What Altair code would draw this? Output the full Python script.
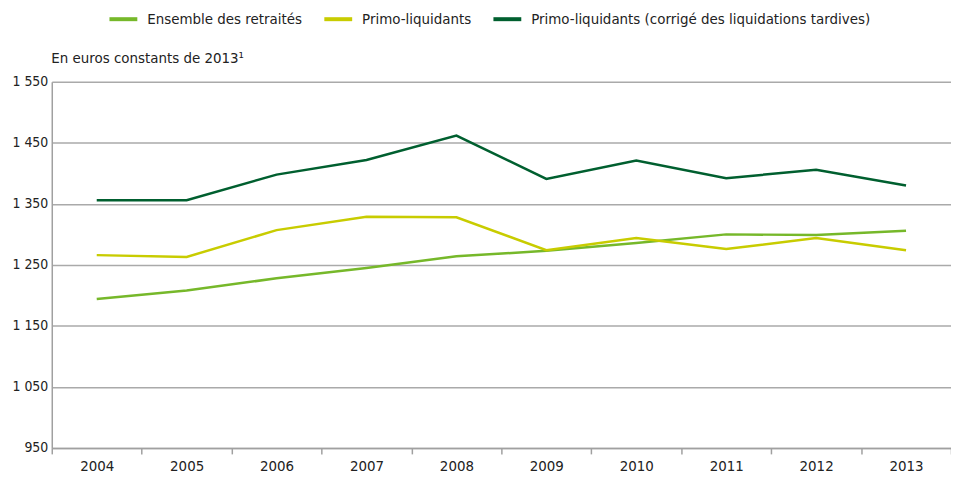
import altair as alt
import pandas as pd

years = ["2004", "2005", "2006", "2007", "2008", "2009", "2010", "2011", "2012", "2013"]
ensemble = [1194, 1208, 1228, 1245, 1264, 1273, 1286, 1300, 1299, 1306]
primo = [1266, 1263, 1307, 1329, 1328, 1274, 1294, 1276, 1294, 1274]
corrige = [1356, 1356, 1398, 1422, 1462, 1391, 1421, 1392, 1406, 1380]

series_names = [
    "Ensemble des retraités",
    "Primo-liquidants",
    "Primo-liquidants (corrigé des liquidations tardives)",
]
series_colors = ["#76b82a", "#c8cc00", "#005f2f"]
y_ticks = [950, 1050, 1150, 1250, 1350, 1450, 1550]

rows = []
for name, vals in zip(series_names, [ensemble, primo, corrige]):
    for y, v in zip(years, vals):
        rows.append({"annee": y, "valeur": v, "serie": name})
df = pd.DataFrame(rows)

FONT = "DejaVu Sans Condensed, Liberation Sans, sans-serif"
FS = 15

chart = (
    alt.Chart(df)
    .mark_line(strokeWidth=2.5)
    .encode(
        x=alt.X(
            "annee:O",
            scale=alt.Scale(type="band", paddingInner=0, paddingOuter=0),
            axis=alt.Axis(
                title=None,
                tickBand="extent",
                labelAngle=0,
                domainColor="#a0a0a0",
                domainWidth=1.5,
                tickColor="#a0a0a0",
                tickWidth=1.5,
                tickSize=6,
                labelFontSize=FS,
                labelColor="#222222",
                labelPadding=5,
                grid=False,
            ),
        ),
        y=alt.Y(
            "valeur:Q",
            scale=alt.Scale(domain=[950, 1550], nice=False, zero=False),
            axis=alt.Axis(
                values=y_ticks,
                labelExpr="replace(format(datum.value, ','), ',', ' ')",
                title="En euros constants de 2013¹",
                titleAngle=0,
                titleAlign="left",
                titleBaseline="middle",
                titleX=-1,
                titleY=-24,
                titleFontSize=FS,
                titleFontWeight="normal",
                titleColor="#222222",
                ticks=False,
                labelFontSize=14,
                labelColor="#222222",
                labelPadding=4,
                domainColor="#a0a0a0",
                domainWidth=1.5,
                gridColor="#aaaaaa",
                gridWidth=1.5,
            ),
        ),
        color=alt.Color(
            "serie:N",
            scale=alt.Scale(domain=series_names, range=series_colors),
            legend=alt.Legend(
                orient="none",
                legendX=56,
                legendY=-79,
                padding=0,
                direction="horizontal",
                title=None,
                symbolType="stroke",
                symbolStrokeWidth=4,
                symbolSize=784,
                labelFontSize=FS,
                labelColor="#222222",
                labelLimit=600,
                columnPadding=14,
                labelOffset=8,
            ),
        ),
    )
    .properties(
        width=904,
        height=368,
        autosize=alt.AutoSizeParams(type="none"),
        padding={"left": 44, "top": 73, "right": 0, "bottom": 30},
    )
    .configure(font=FONT)
    .configure_view(stroke=None)
)

chart.save("out.html", embed_options={"renderer": "svg", "actions": False})
